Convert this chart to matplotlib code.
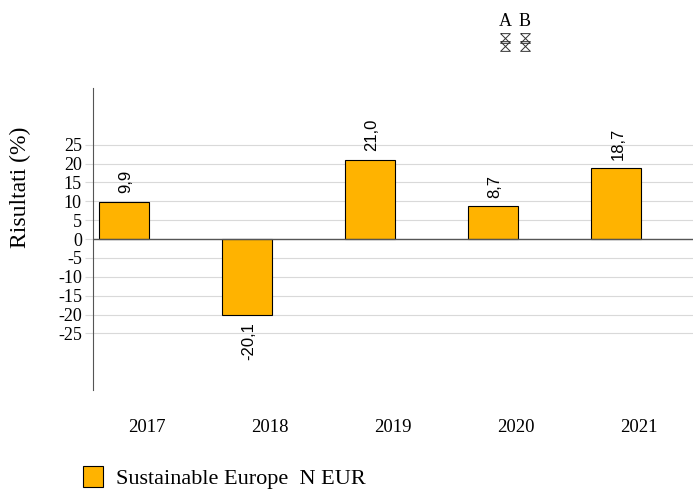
import matplotlib.pyplot as plt
from matplotlib.lines import Line2D

years = ["2017", "2018", "2019", "2020", "2021"]
values = [9.9, -20.1, 21.0, 8.7, 18.7]
labels = ["9,9", "-20,1", "21,0", "8,7", "18,7"]
yticks = [25, 20, 15, 10, 5, 0, -5, -10, -15, -20, -25]

plt.rcParams['font.family'] = ['Liberation Serif', 'DejaVu Serif', 'DejaVu Sans']

fig = plt.figure(figsize=(6.94, 4.90), dpi=100)
ax = fig.add_axes([93 / 694, 1 - 390 / 490, 600 / 694, 302 / 490])

x = list(range(len(years)))
bars = ax.bar(x, values, width=0.405, color="#FFB300", edgecolor="black",
              linewidth=0.8, zorder=3, label="Sustainable Europe  N EUR")

for xi, v, lab in zip(x, values, labels):
    if v >= 0:
        ax.annotate(lab, (xi, v), xytext=(1.5, 6), textcoords="offset points",
                    rotation=90, ha="center", va="bottom", fontsize=12,
                    family=["Liberation Sans", "DejaVu Sans"])
    else:
        ax.annotate(lab, (xi, v), xytext=(1.5, -5), textcoords="offset points",
                    rotation=90, ha="center", va="top", fontsize=12,
                    family=["Liberation Sans", "DejaVu Sans"])

ax.set_xlim(-0.252, 4.626)
ax.set_ylim(-40, 40)
ax.set_yticks(yticks)
ax.set_yticklabels([str(t) for t in yticks], fontsize=13)
ax.set_xticks([xi + 0.19 for xi in x])
ax.set_xticklabels(years, fontsize=13.5)
ax.tick_params(axis="x", length=0, pad=21)
ax.tick_params(axis="y", length=6, color="#d9d9d9", pad=2)

ax.grid(axis="y", color="#d9d9d9", linewidth=0.8, zorder=0)
ax.axhline(0, color="#555555", linewidth=1, zorder=4)
for s in ["top", "right", "bottom"]:
    ax.spines[s].set_visible(False)
ax.spines["left"].set_color("#555555")

ax.set_ylabel("Risultati (%)", fontsize=17)
ax.yaxis.set_label_coords(-0.104, 0.672)

fig.legend(handles=[bars], loc="lower left", bbox_to_anchor=(83 / 694, 1 / 490),
           frameon=False, fontsize=16, handlelength=0.9, handleheight=1.04,
           handletextpad=0.6, borderpad=0, borderaxespad=0)

fig.text(505 / 694, 1 - 22 / 490, "A", ha="center", va="center", fontsize=13)
fig.text(525 / 694, 1 - 22 / 490, "B", ha="center", va="center", fontsize=13)
# hourglass-like placeholder symbols under A and B
hourglass = [(-1, 1), (1, 1), (-1, -1), (1, -1), (-1, 1)]
for xp in [505, 525]:
    for yp in [38, 46]:
        fig.add_artist(Line2D([xp / 694], [1 - yp / 490], marker=hourglass,
                              markersize=7, markerfacecolor="none",
                              markeredgecolor="#333333", markeredgewidth=0.7,
                              transform=fig.transFigure))

fig.savefig("out.png", dpi=100)
